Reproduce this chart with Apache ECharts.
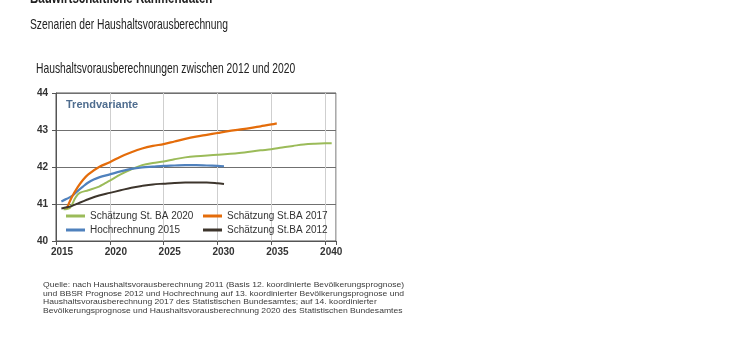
<!DOCTYPE html>
<html>
<head>
<meta charset="utf-8">
<script src="https://cdn.jsdelivr.net/npm/echarts@6/dist/echarts.min.js"></script>
<style>
  html, body { margin: 0; padding: 0; background: #ffffff; }
  #chart { width: 730px; height: 340px; }
</style>
</head>
<body>
<div id="chart"></div>
<script>
// Number of households (millions) by projection scenario
const nameBA2020 = 'Schätzung St. BA 2020';
const nameHR2015 = 'Hochrechnung 2015';
const nameBA2017 = 'Schätzung St.BA 2017';
const nameBA2012 = 'Schätzung St.BA 2012';

const yearsBA2020  = [2015.7, 2016.3, 2016.8, 2017.2, 2018, 2019, 2019.5, 2020, 2021, 2022, 2023, 2024, 2025, 2026, 2027, 2028, 2030, 2032, 2034, 2035, 2036, 2037, 2038, 2039, 2040, 2040.6];
const valuesBA2020 = [40.86, 40.9, 41.17, 41.3, 41.37, 41.47, 41.55, 41.63, 41.8, 41.94, 42.05, 42.11, 42.15, 42.21, 42.26, 42.29, 42.33, 42.38, 42.45, 42.48, 42.53, 42.57, 42.61, 42.63, 42.64, 42.64];

const yearsHR2015  = [2015.5, 2016, 2016.5, 2017, 2017.5, 2018, 2018.5, 2019, 2020, 2021, 2022, 2023, 2024, 2025, 2026, 2027, 2028, 2029, 2030, 2030.6];
const valuesHR2015 = [41.07, 41.14, 41.22, 41.35, 41.47, 41.58, 41.66, 41.72, 41.8, 41.88, 41.95, 41.99, 42.01, 42.03, 42.04, 42.05, 42.05, 42.04, 42.03, 42.02];

const yearsBA2017  = [2016, 2016.5, 2017, 2017.5, 2018, 2019, 2020, 2021, 2022, 2023, 2024, 2025, 2026, 2027, 2028, 2029, 2030, 2031, 2032, 2033, 2034, 2035, 2035.5];
const valuesBA2017 = [40.88, 41.2, 41.45, 41.65, 41.8, 42.0, 42.13, 42.28, 42.4, 42.5, 42.57, 42.62, 42.69, 42.76, 42.82, 42.87, 42.92, 42.97, 43.01, 43.05, 43.1, 43.15, 43.18];

const yearsBA2012  = [2015.5, 2016, 2016.5, 2017, 2017.5, 2018, 2019, 2020, 2021, 2022, 2023, 2024, 2025, 2026, 2027, 2028, 2029, 2030, 2030.6];
const valuesBA2012 = [40.88, 40.91, 40.95, 41.01, 41.07, 41.13, 41.23, 41.3, 41.37, 41.44, 41.49, 41.53, 41.55, 41.57, 41.58, 41.58, 41.58, 41.56, 41.54];

const yAxisMin = 40, yAxisMax = 44, yAxisStep = 1;
const xAxisMin = 2015, xAxisMax = 2041, xAxisStep = 5;

const pageTitle = 'Bauwirtschaftliche Rahmendaten';
const pageSubtitle = 'Szenarien der Haushaltsvorausberechnung';
const chartTitle = 'Haushaltsvorausberechnungen zwischen 2012 und 2020';
const variantLabel = 'Trendvariante';
const sourceNote = [
  'Quelle: nach Haushaltsvorausberechnung 2011 (Basis 12. koordinierte Bevölkerungsprognose)',
  'und BBSR Prognose 2012 und Hochrechnung auf 13. koordinierter Bevölkerungsprognose und',
  'Haushaltsvorausberechnung 2017 des Statistischen Bundesamtes; auf 14. koordinierter',
  'Bevölkerungsprognose und Haushaltsvorausberechnung 2020 des Statistischen Bundesamtes'
];

const pairs = (xs, ys) => xs.map((x, i) => [x, ys[i]]);

function lineSeries(name, xs, ys, color, width) {
  return {
    name: name,
    type: 'line',
    data: pairs(xs, ys),
    smooth: 0.35,
    showSymbol: false,
    symbol: 'none',
    lineStyle: { color: color, width: width },
    itemStyle: { color: color },
    emphasis: { disabled: true },
    z: 3
  };
}

const FONT = '"Liberation Sans", Arial, sans-serif';

const chart = echarts.init(document.getElementById('chart'), null, { renderer: 'canvas' });

const legendCommon = {
  orient: 'vertical',
  icon: 'rect',
  itemWidth: 19,
  itemHeight: 3,
  itemGap: 2,
  padding: 0,
  top: 210,
  selectedMode: false,
  textStyle: { fontFamily: FONT, fontSize: 10, color: '#333333', lineHeight: 12 }
};

chart.setOption({
  animation: false,
  backgroundColor: '#ffffff',
  graphic: [
    {
      type: 'text', x: 30, y: -10, scaleX: 0.68, originX: 0,
      style: { text: pageTitle, fontFamily: FONT, fontSize: 17, fontWeight: 'bold', fill: '#222222' }
    },
    {
      type: 'text', x: 30, y: 17, scaleX: 0.71, originX: 0,
      style: { text: pageSubtitle, fontFamily: FONT, fontSize: 14.5, fill: '#222222' }
    },
    {
      type: 'text', x: 36, y: 61, scaleX: 0.71, originX: 0,
      style: { text: chartTitle, fontFamily: FONT, fontSize: 14.5, fill: '#222222' }
    },
    {
      type: 'text', x: 66, y: 99, z: 10,
      style: { text: variantLabel, fontFamily: FONT, fontSize: 11, fontWeight: 'bold', fill: '#4f6d8f' }
    },
    {
      type: 'text', x: 43, y: 281, scaleX: 1.1, originX: 0,
      style: { text: sourceNote.join('\n'), fontFamily: FONT, fontSize: 7.8, lineHeight: 8.4, fill: '#3a3a3a' }
    }
  ],
  grid: {
    left: 56, right: 394, top: 93, bottom: 99,
    show: true, borderColor: '#555555', borderWidth: 1, backgroundColor: 'transparent'
  },
  legend: [
    Object.assign({}, legendCommon, { left: 66, data: [nameBA2020, nameHR2015] }),
    Object.assign({}, legendCommon, { left: 203, data: [nameBA2017, nameBA2012] })
  ],
  xAxis: {
    type: 'value',
    min: xAxisMin, max: xAxisMax, interval: xAxisStep,
    axisLine: { show: true, lineStyle: { color: '#555555' } },
    axisTick: { show: true, inside: false, length: 4, lineStyle: { color: '#555555' } },
    axisLabel: {
      fontFamily: FONT, fontSize: 10, fontWeight: 'bold', color: '#333333', margin: 6,
      padding: [0, 0, 0, 12],
      formatter: v => (v % xAxisStep === 0 ? String(v) : '')
    },
    splitLine: { show: true, lineStyle: { color: '#cfcfcf', width: 1 } }
  },
  yAxis: {
    type: 'value',
    min: yAxisMin, max: yAxisMax, interval: yAxisStep,
    axisLine: { show: true, lineStyle: { color: '#555555' } },
    axisTick: { show: true, inside: false, length: 4, lineStyle: { color: '#555555' } },
    axisLabel: { fontFamily: FONT, fontSize: 10, fontWeight: 'bold', color: '#333333', margin: 8 },
    splitLine: { show: true, lineStyle: { color: '#707070', width: 1 } }
  },
  series: [
    lineSeries(nameBA2020, yearsBA2020, valuesBA2020, '#9bbb59', 2),
    lineSeries(nameHR2015, yearsHR2015, valuesHR2015, '#4f81bd', 2.2),
    lineSeries(nameBA2017, yearsBA2017, valuesBA2017, '#e46c0a', 2.2),
    lineSeries(nameBA2012, yearsBA2012, valuesBA2012, '#3d352c', 2)
  ]
});
</script>
</body>
</html>
